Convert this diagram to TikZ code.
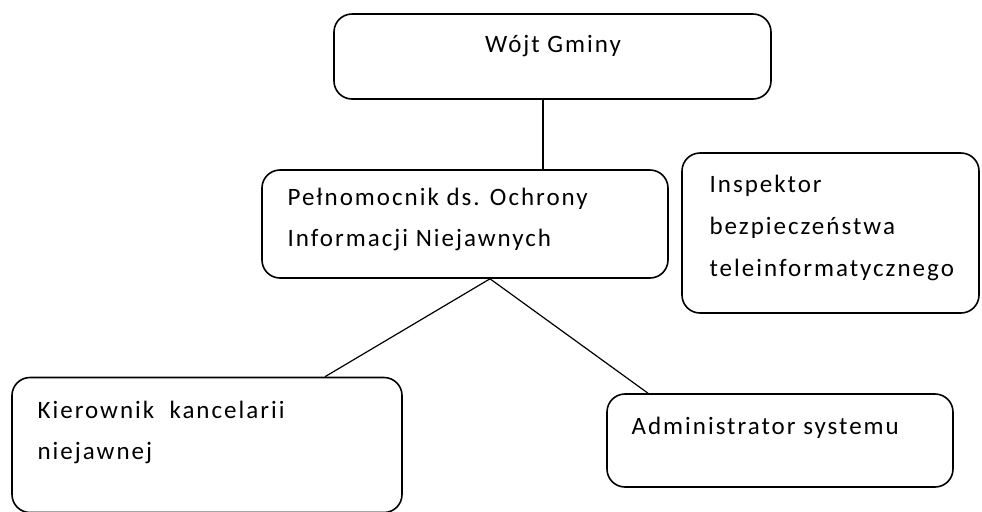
\documentclass[tikz,border=0pt]{standalone}
\usepackage{fontspec}
\setmainfont{Carlito}[LetterSpace=8]
\usetikzlibrary{positioning}

\begin{document}
\begin{tikzpicture}[x=0.5pt,y=-0.5pt,
	unit/.style={draw,rectangle,rounded corners=9pt,line width=0.8pt,inner sep=0pt},
	txt/.style={align=left,inner sep=0pt,anchor=base west,font=\fontsize{12.5}{20.5}\selectfont},
	link/.style={line width=0.6pt}]
\useasboundingbox (0,0) rectangle (982,511);
\node[unit,minimum width=218.5pt,minimum height=42.5pt](wojt) at (552.5,56.5) {};
\node[unit,minimum width=203pt,minimum height=54pt](pelnom) at (465,224) {};
\node[unit,minimum width=148.5pt,minimum height=80pt](insp) at (830.5,233) {};
\node[unit,minimum width=195pt,minimum height=67.5pt](kier) at (207,445) {};
\node[unit,minimum width=173pt,minimum height=46.5pt](admin) at (780,440.5) {};
% base of a multi-line node = last line
\node[txt,anchor=base](wojtT) at ([shift={(0.5,39)}]wojt.north)
	{Wójt Gminy};
\node[txt](pelnomT) at ([shift={(26,77)}]pelnom.north west)
	{Pełnomocnik ds. Ochrony \\ Informacji Niejawnych};
\node[txt,font=\fontsize{12.5}{21}\selectfont](inspT) at ([shift={(28,124)}]insp.north west)
	{Inspektor \\ bezpieczeństwa \\ teleinformatycznego};
\node[txt](kierT) at ([shift={(26,83)}]kier.north west)
	{Kierownik\ \ kancelarii \\ niejawnej};
\node[txt](adminT) at ([shift={(25,41)}]admin.north west)
	{Administrator systemu};
\coordinate (split) at ([xshift=12.5pt]pelnom.south);
\draw[link] ([xshift=-4.75pt]wojt.south) -- ([xshift=-4.75pt]wojt.south |- pelnom.north);
\draw[link] (split) -- ([xshift=59pt]kier.north);
\draw[link] (split) -- ([xshift=-66pt]admin.north);
\end{tikzpicture}
\end{document}
